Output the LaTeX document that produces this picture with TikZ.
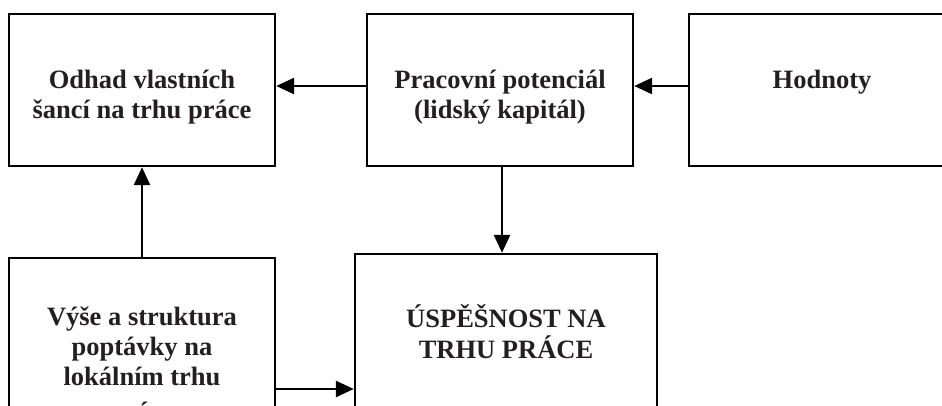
\documentclass[tikz,border=0pt]{standalone}
\usepackage{fontspec}
\setmainfont{Liberation Serif}
\usetikzlibrary{arrows.meta}
\definecolor{ink}{RGB}{35,31,32}
\tikzset{
  box/.style={draw=black, line width=2.4pt, rectangle, inner sep=0pt, minimum width=266pt, minimum height=152pt},
  lbl/.style={anchor=base, inner sep=0pt, text=ink, font=\fontsize{26.5}{30}\selectfont\bfseries},
  arr/.style={draw=black, line width=2.6pt, -{Triangle[length=18pt,width=16pt]}}
}
\begin{document}
\begin{tikzpicture}[x=1pt,y=-1pt]
\useasboundingbox (0,0) rectangle (942,405);
\clip (0,0) rectangle (942,405);
\fill[white] (0,0) rectangle (942,405);
% boxes
\node[box] (odhad) at (142,90) {};
\node[box] (prac) at (500,90) {};
\node[box] (hodn) at (822,90) {};
\node[box, minimum height=212pt] (vyse) at (142,364) {};
\node[box, minimum width=302pt, minimum height=216pt] (usp) at (506,362) {};
% labels
\node[lbl] (todhad) at (142,88) {\begin{tabular}[t]{@{}c@{}}Odhad vlastních\\šancí na trhu práce\end{tabular}};
\node[lbl] (tprac) at (500,88) {\begin{tabular}[t]{@{}c@{}}Pracovní potenciál\\(lidský kapitál)\end{tabular}};
\node[lbl] (thodn) at (822,88) {Hodnoty};
\node[lbl] (tvyse) at (142,325) {\begin{tabular}[t]{@{}c@{}}Výše a struktura\\poptávky na\\lokálním trhu\\[5pt]práce\end{tabular}};
\node[lbl] (tusp) at (506,327) {\begin{tabular}[t]{@{}c@{}}ÚSPĚŠNOST NA\\TRHU PRÁCE\end{tabular}};
% connectors
\draw[arr] ([yshift=4pt]prac.west) -- ([yshift=4pt]odhad.east);
\draw[arr] ([yshift=4pt]hodn.west) -- ([yshift=4pt]prac.east);
\draw[arr] ([xshift=2pt]prac.south) -- ([xshift=2pt]prac.south |- usp.north);
\draw[arr] (vyse.north) -- (odhad.south);
\draw[arr] (vyse.east |- 0,389) -- (usp.west |- 0,389);
\end{tikzpicture}
\end{document}
